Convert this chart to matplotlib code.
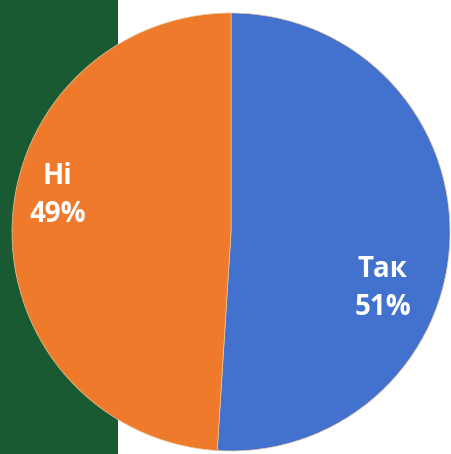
import matplotlib
matplotlib.use('Agg')
import matplotlib.pyplot as plt
from matplotlib.patches import Rectangle
import numpy as np

labels = ['Так', 'Ні']
shares = [51, 49]
colors = ['#4372CE', '#F07A2B']

fig = plt.figure(figsize=(4.52, 4.54), dpi=100)
fig.patch.set_facecolor('white')

# dark green band on the left side of the slide
fig.add_artist(Rectangle((0, 0), 118 / 452, 1, transform=fig.transFigure,
                         facecolor='#195A33', edgecolor='none', zorder=0))

ax = fig.add_axes([12 / 452, 3 / 454, 438 / 452, 438 / 454])
wedges, _ = ax.pie(shares, colors=colors, startangle=90, counterclock=False,
                   radius=1, wedgeprops=dict(edgecolor='#E8C8A0', linewidth=0.5))
ax.set_xlim(-1, 1)
ax.set_ylim(-1, 1)
ax.axis('off')

# label placement: angle (deg) and distance from centre
label_pos = {'Так': (-20.5, 0.74), 'Ні': (168, 0.81)}
for lab, val in zip(labels, shares):
    ang, dist = label_pos[lab]
    x = dist * np.cos(np.radians(ang))
    y = dist * np.sin(np.radians(ang))
    ax.text(x, y, f'{lab}\n{val}%', ha='center', va='center', color='white',
            fontsize=20, fontweight='bold', family='Open Sans', linespacing=1.4)

fig.savefig('out.png', dpi=100)
